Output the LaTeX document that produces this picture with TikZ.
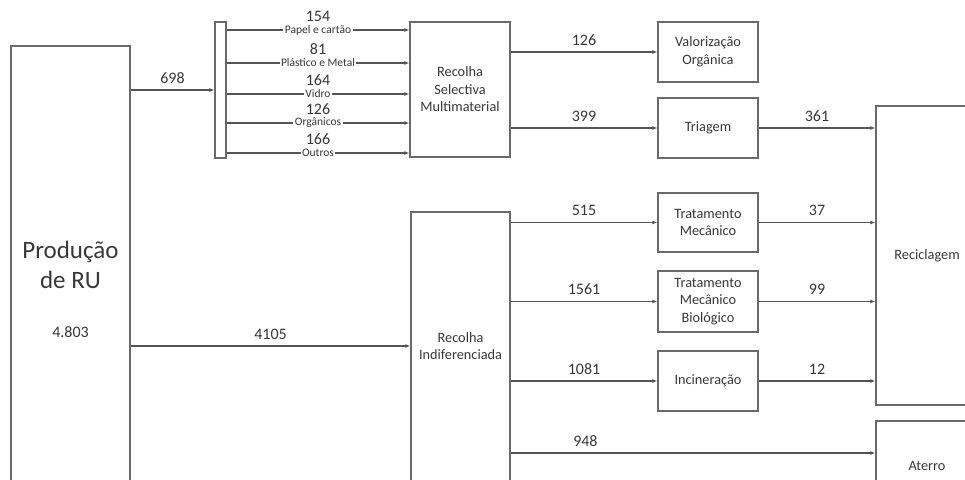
\documentclass[tikz,border=0pt]{standalone}
\usepackage{fontspec}
\setmainfont{Carlito}
\usetikzlibrary{arrows.meta}
\definecolor{txt}{HTML}{383838}
\definecolor{ln}{HTML}{555555}
\definecolor{bx}{HTML}{6A6A6A}
\begin{document}
\begin{tikzpicture}[x=1pt,y=-1pt,
  box/.style={draw=bx, line width=1.3pt, fill=white, inner sep=0pt, text=txt, align=center, font=\fontsize{14.3}{17.5}\selectfont},
  arr/.style={draw=ln, line width=1.1pt, -{Latex[length=5pt,width=4pt]}},
  num/.style={text=txt, font=\fontsize{16}{18}\selectfont, inner sep=0pt, yshift=12pt},
  topnum/.style={text=txt, font=\fontsize{16}{18}\selectfont, inner sep=0pt, yshift=13.5pt},
  sublab/.style={text=txt, fill=white, font=\fontsize{11.5}{12}\selectfont, inner xsep=1.5pt, inner ysep=0pt},
  plain/.style={text=txt, align=center, inner sep=0pt},
]
\useasboundingbox (0,0) rectangle (965,479);
\clip (0,0) rectangle (965,479);

% boxes
\node[box, minimum width=119pt, minimum height=454pt] (prod) at (70.5,273) {};
\node[plain, font=\fontsize{25}{30}\selectfont] (prodtxt) at (70.5,265) {Produção\\de RU};
\node[plain, font=\fontsize{16}{18}\selectfont] (prodval) at (70.5,332) {4.803};

\node[box, minimum width=11pt, minimum height=136pt] (bar) at (220.5,90) {};
\node[box, minimum width=100pt, minimum height=135pt] (rsm) at (460,89.5) {Recolha\\Selectiva\\Multimaterial};
\node[box, minimum width=100pt, minimum height=60pt] (valor) at (708,52) {Valorização\\Orgânica};
\node[box, minimum width=100pt, minimum height=60pt] (triag) at (708,128) {Triagem};

\node[box, minimum width=99pt, minimum height=288pt] (rind) at (460.5,356) {};
\node[plain, font=\fontsize{14.3}{17.5}\selectfont] (rindtxt) at (460.5,346) {Recolha\\Indiferenciada};

\node[box, minimum width=100pt, minimum height=59pt] (tm) at (708,222.5) {Tratamento\\Mecânico};
\node[box, minimum width=100pt, minimum height=61pt] (tmb) at (708,301.5) {Tratamento\\Mecânico\\Biológico};
\node[box, minimum width=100pt, minimum height=60pt] (inc) at (708,381) {Incineração};

\node[box, minimum width=102pt, minimum height=299pt] (recic) at (927,255.5) {Reciclagem};
\node[box, minimum width=102pt, minimum height=89pt] (aterro) at (927,465.5) {Aterro};

% connectors
\draw[arr] (prod.east |- bar.west) -- node[num]{698} (bar.west);
\foreach \yy/\nn/\ss in {30/154/Papel e cartão, 63/81/Plástico e Metal, 94/164/Vidro, 123/126/Orgânicos, 153/166/Outros}{
  \draw[arr] (bar.east |- 0,\yy) -- (rsm.west |- 0,\yy)
     node[pos=.5, sublab]{\ss} node[pos=.5, topnum]{\nn};
}
\draw[arr] (rsm.east |- valor.west) -- node[num]{126} (valor.west);
\draw[arr] (rsm.east |- triag.west) -- node[num]{399} (triag.west);
\draw[arr] (triag.east) -- node[num]{361} (recic.west |- triag.east);

\draw[arr] (prod.east |- 0,346) -- node[num]{4105} (rind.west |- 0,346);
\draw[arr] (rind.east |- tm.west) -- node[num]{515} (tm.west);
\draw[arr] (rind.east |- tmb.west) -- node[num]{1561} (tmb.west);
\draw[arr] (rind.east |- inc.west) -- node[num]{1081} (inc.west);
\draw[arr] (rind.east |- 0,453) -- node[num, pos=.205]{948} (aterro.west |- 0,453);

\draw[arr] (tm.east) -- node[num]{37} (recic.west |- tm.east);
\draw[arr] (tmb.east) -- node[num]{99} (recic.west |- tmb.east);
\draw[arr] (inc.east) -- node[num]{12} (recic.west |- inc.east);
\end{tikzpicture}
\end{document}
